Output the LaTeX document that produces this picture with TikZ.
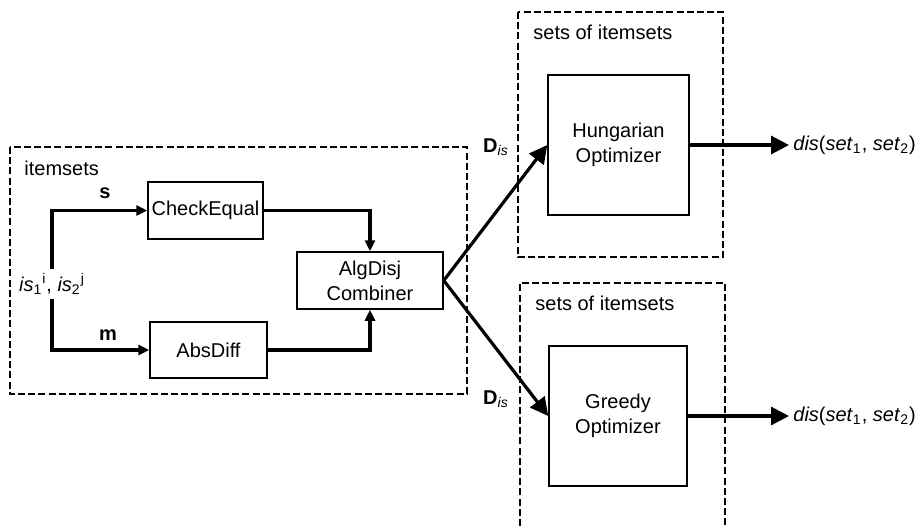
\documentclass[tikz,border=0pt]{standalone}
\usepackage{fontspec}
\setmainfont{Liberation Sans}
\usetikzlibrary{arrows.meta}
\begin{document}
\begin{tikzpicture}[x=0.5pt,y=-0.5pt,
  font=\fontsize{10}{12.5}\selectfont,
  box/.style={draw, line width=0.75pt, inner sep=0pt, align=center},
  grp/.style={draw, line width=1.3pt, dash pattern=on 3.5pt off 1.6pt},
  thinarrow/.style={line width=1.6pt, -{Triangle[length=5.5pt,width=5pt]}},
  bigarrow/.style={line width=1.6pt, -{Triangle[length=9pt,width=9pt]}},
  lbl/.style={inner sep=1pt}]
\useasboundingbox (0,0) rectangle (918,526);
% group boxes
\draw[grp] (10,147) rectangle (467,394);
\draw[grp] (518,12) rectangle (723,257);
\draw[grp] (520,526) -- (520,283) -- (725,283) -- (725,526);
\draw[line width=1.4pt, white] (520,526) -- (520,285);
\draw[line width=0.6pt, dash pattern=on 3.5pt off 1.6pt] (520,526) -- (520,283);
\node[lbl, anchor=west] (g1) at (22,168) {itemsets};
\node[lbl, anchor=west] (g2) at (531,32) {sets of itemsets};
\node[lbl, anchor=west] (g3) at (533,303) {sets of itemsets};
% boxes
\node[box, minimum width=57.5pt, minimum height=28.5pt] (ce) at (205.5,210.5) {CheckEqual};
\node[box, minimum width=58.5pt, minimum height=28pt] (ad) at (208.5,350) {AbsDiff};
\node[box, minimum width=73pt, minimum height=28.5pt] (comb) at (370,280.5) {AlgDisj\\Combiner};
\node[box, minimum width=70.5pt, minimum height=70pt] (hung) at (618.5,145) {Hungarian\\Optimizer};
\node[box, minimum width=69pt, minimum height=70pt] (greedy) at (618,416) {Greedy\\Optimizer};
% input
\node[inner sep=2pt] (in) at (52,284) {\textit{is}\textsubscript{1}\textsuperscript{i}, \textit{is}\textsubscript{2}\textsuperscript{j}};
\draw[thinarrow] (in.north) |- (ce.west);
\draw[thinarrow] (in.south) |- (ad.west);
\node[lbl] (s) at (105,193) {\textbf{s}};
\node[lbl] (m) at (108,335) {\textbf{m}};
\draw[thinarrow] (ce.east) -| (comb.north);
\draw[thinarrow] (ad.east) -| (comb.south);
% to optimizers
\draw[bigarrow] (comb.east) -- (hung.west);
\draw[bigarrow] (comb.east) -- (greedy.west);
\node[lbl] (d1) at (496,147) {\textbf{D}\textsubscript{\textit{is}}};
\node[lbl] (d2) at (496,399) {\textbf{D}\textsubscript{\textit{is}}};
% outputs
\node[anchor=west, inner sep=2pt] (o1) at (789,145) {\textit{dis}(\textit{set}\textsubscript{1}, \textit{set}\textsubscript{2})};
\node[anchor=west, inner sep=2pt] (o2) at (789,416) {\textit{dis}(\textit{set}\textsubscript{1}, \textit{set}\textsubscript{2})};
\draw[bigarrow] (hung.east) -- (o1.west);
\draw[bigarrow] (greedy.east) -- (o2.west);
\end{tikzpicture}
\end{document}
